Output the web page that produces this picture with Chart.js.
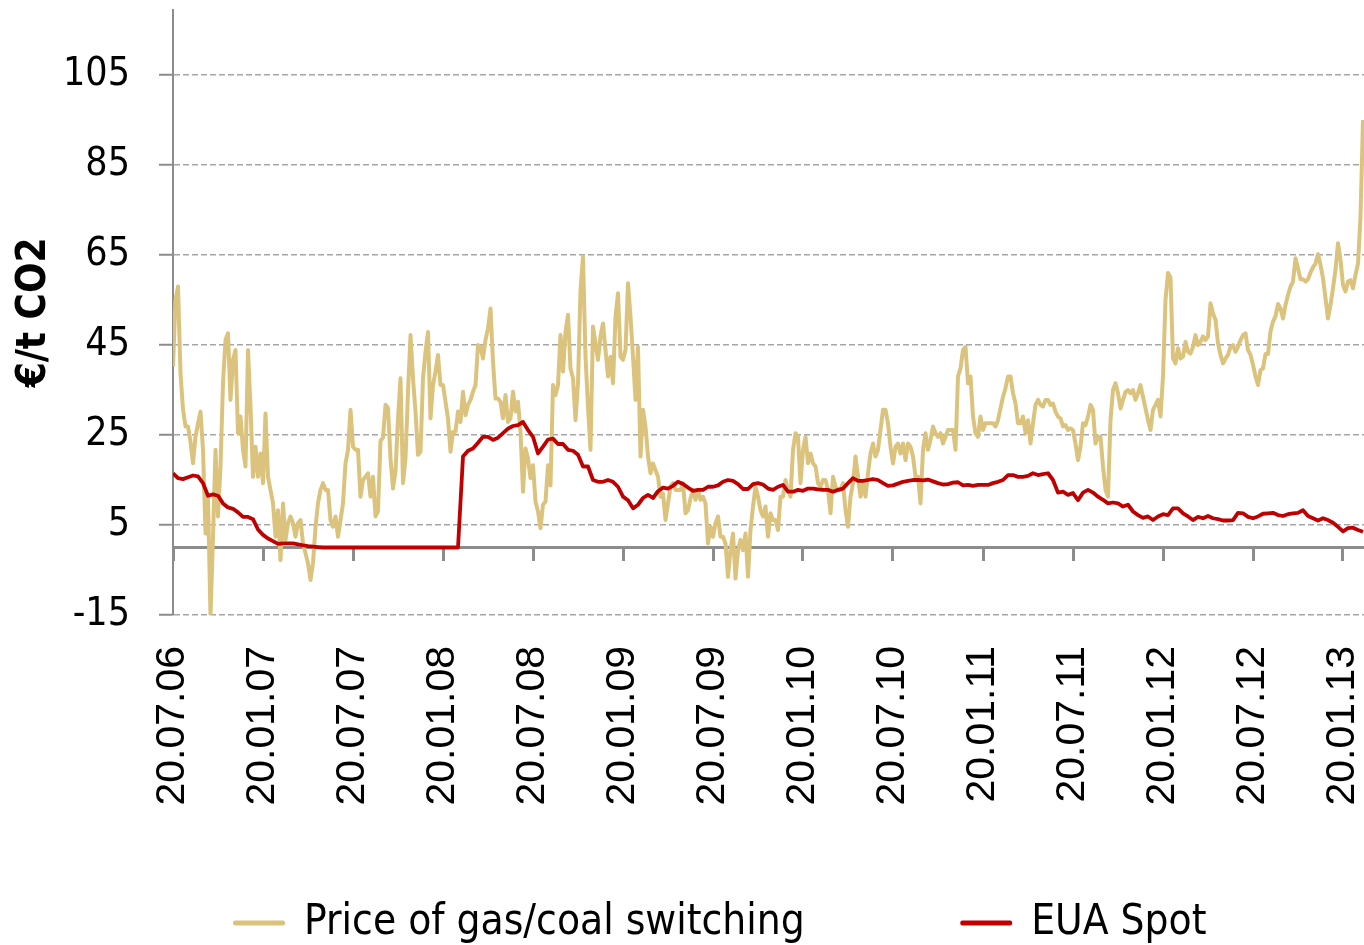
<!DOCTYPE html>
<html>
<head>
<meta charset="utf-8">
<script src="https://cdn.jsdelivr.net/npm/chart.js@4/dist/chart.umd.min.js"></script>
<style>
  html, body { margin: 0; padding: 0; background: #fff; }
  canvas { display: block; }
</style>
</head>
<body>
<canvas id="chart" width="1364" height="945"></canvas>
<script>
// x axis: months since 20.07.06, one label every 6 months
const tickLabels = ['20.07.06', '20.01.07', '20.07.07', '20.01.08', '20.07.08', '20.01.09', '20.07.09',
                    '20.01.10', '20.07.10', '20.01.11', '20.07.11', '20.01.12', '20.07.12', '20.01.13'];
const yTicks = [-15, 5, 25, 45, 65, 85, 105];

// sampling step of each series, in months
const gasStep = 1 / 6;
const euaStep = 1 / 3;

// Price of gas/coal switching, EUR/t CO2
const gasSwitch = [
  40.2, 55.0, 58.0, 38.7, 30.6, 26.9, 26.9, 23.5, 18.7, 24.6,
  27.6, 30.2, 21.7, 3.1, 11.1, -15.4, 2.4, 21.7, 6.9, 18.0,
  36.5, 46.1, 47.6, 32.8, 41.7, 43.9, 25.4, 29.1, 21.7, 18.0,
  43.9, 31.3, 15.7, 22.4, 15.7, 20.9, 14.3, 29.8, 15.7, 12.8,
  9.8, 2.4, 8.3, -2.8, 9.8, 1.7, 5.4, 6.9, 5.4, 2.4,
  5.4, 6.1, 0.9, -1.3, -3.5, -7.2, -3.5, 4.6, 9.8, 12.8,
  14.3, 12.8, 12.8, 6.1, 4.6, 6.9, 2.4, 6.1, 9.8, 18.7,
  21.7, 30.6, 22.4, 21.7, 21.7, 11.3, 15.0, 15.7, 16.5, 11.3,
  15.7, 6.9, 8.1, 23.7, 24.4, 31.7, 31.0, 19.8, 13.1, 16.9,
  28.7, 37.6, 14.3, 19.8, 34.6, 47.2, 37.6, 30.2, 20.6, 21.3,
  37.6, 43.5, 47.9, 28.7, 36.1, 39.1, 42.8, 36.1, 36.1, 32.4,
  28.7, 21.3, 25.7, 25.7, 30.2, 27.9, 34.6, 29.4, 31.7, 32.8,
  34.6, 36.1, 45.0, 44.6, 42.0, 46.1, 48.7, 53.1, 41.3, 33.1,
  33.1, 32.4, 28.7, 33.9, 27.9, 28.7, 34.6, 30.2, 32.4, 25.7,
  12.4, 22.0, 19.8, 15.4, 18.3, 10.2, 8.0, 4.3, 9.5, 10.2,
  18.3, 13.8, 36.1, 33.9, 36.1, 47.2, 39.1, 47.9, 51.7, 39.8,
  37.6, 28.3, 36.5, 57.2, 64.6, 42.4, 31.3, 21.7, 49.1, 45.4,
  41.7, 46.9, 49.8, 43.9, 38.0, 42.4, 36.5, 51.3, 56.5, 42.4,
  41.7, 43.9, 58.7, 51.3, 42.4, 32.8, 44.6, 20.2, 30.6, 26.9,
  20.2, 16.5, 18.7, 17.2, 15.7, 11.3, 12.0, 6.1, 9.8, 13.5,
  14.3, 12.8, 12.8, 12.8, 14.3, 7.6, 8.3, 10.9, 12.8, 10.6,
  12.8, 10.6, 11.3, 9.8, 0.9, 4.6, 2.4, 5.4, 6.9, 2.4,
  2.4, 0.9, -6.5, -0.6, 3.1, -6.9, -0.6, 1.7, -0.6, 3.1,
  -6.5, 3.9, 9.1, 13.5, 11.3, 8.3, 6.9, 9.1, 2.4, 7.6,
  6.1, 6.1, 3.9, 11.3, 11.3, 15.0, 12.8, 11.3, 21.7, 25.4,
  24.6, 14.3, 21.7, 24.6, 18.7, 20.9, 18.7, 18.0, 14.3, 13.5,
  15.0, 15.0, 12.8, 7.6, 15.7, 13.5, 12.8, 12.8, 14.3, 8.3,
  4.6, 11.3, 14.3, 20.2, 15.7, 11.3, 14.3, 11.3, 16.5, 20.9,
  23.1, 20.2, 21.7, 26.1, 30.6, 30.6, 27.6, 22.4, 18.7, 22.4,
  23.1, 20.9, 23.1, 19.4, 23.1, 22.4, 20.2, 15.7, 15.7, 9.8,
  21.7, 25.4, 21.7, 23.9, 26.9, 25.4, 24.6, 25.4, 23.1, 24.6,
  26.1, 26.1, 26.1, 21.7, 38.0, 39.8, 43.9, 44.6, 36.5, 38.0,
  29.1, 25.4, 24.6, 29.1, 26.1, 27.6, 27.6, 27.6, 27.6, 26.9,
  28.3, 30.9, 33.5, 35.4, 38.0, 38.0, 34.3, 32.0, 27.6, 27.6,
  29.1, 25.4, 28.3, 23.1, 27.6, 31.7, 32.8, 31.7, 31.3, 32.8,
  32.8, 31.7, 32.0, 30.2, 29.1, 28.7, 26.9, 27.2, 26.1, 26.5,
  26.1, 23.1, 19.4, 22.4, 27.6, 27.2, 29.1, 31.7, 30.6, 23.1,
  24.6, 24.6, 18.0, 12.8, 11.3, 28.3, 35.0, 36.5, 34.3, 30.9,
  32.8, 34.6, 35.0, 34.3, 35.0, 32.8, 34.3, 36.1, 33.5, 30.9,
  28.3, 26.1, 30.6, 31.7, 32.8, 29.1, 38.0, 55.0, 61.0, 60.0,
  42.0, 40.9, 44.3, 42.0, 42.4, 45.7, 43.5, 43.1, 44.6, 47.2,
  45.0, 45.7, 46.9, 46.1, 46.9, 54.3, 52.0, 50.6, 45.4, 42.8,
  40.9, 42.0, 42.8, 44.6, 45.0, 43.5, 44.6, 46.1, 47.2, 47.6,
  43.9, 42.8, 40.6, 38.0, 36.1, 39.4, 39.8, 43.0, 43.0, 48.0,
  50.2, 51.4, 54.1, 53.1, 50.9, 53.9, 56.1, 58.0, 59.1, 64.3,
  62.0, 59.6, 59.6, 59.1, 59.6, 61.1, 62.3, 63.1, 65.2, 62.8,
  59.8, 55.4, 50.9, 53.9, 57.6, 61.7, 67.6, 63.9, 58.3, 56.9,
  59.1, 59.4, 57.6, 60.6, 63.1, 73.5, 95.0
];

// EUA Spot, EUR/t CO2
const euaSpot = [
  16.5, 15.4, 15.2, 15.6, 16.0, 15.8, 14.3, 11.5, 11.8, 11.5,
  9.8, 8.9, 8.6, 7.8, 6.8, 6.8, 6.3, 4.0, 2.8, 2.0,
  1.4, 0.8, 0.9, 0.9, 0.9, 0.7, 0.5, 0.3, 0.2, 0.1,
  0, 0, 0, 0, 0, 0, 0, 0, 0, 0,
  0, 0, 0, 0, 0, 0, 0, 0, 0, 0,
  0, 0, 0, 0, 0, 0, 0, 0, 20.2, 21.5,
  22.0, 23.3, 24.6, 24.6, 23.9, 24.4, 25.4, 26.4, 27.0, 27.2,
  27.9, 26.1, 24.6, 20.9, 22.4, 24.0, 24.2, 23.0, 23.0, 21.7,
  21.5, 20.6, 18.0, 18.0, 15.0, 14.6, 14.6, 15.0, 14.6, 13.5,
  11.3, 10.5, 8.7, 9.5, 11.0, 11.7, 11.0, 12.5, 13.3, 13.1,
  13.7, 14.6, 14.1, 13.3, 12.6, 12.8, 12.8, 13.5, 13.5, 13.8,
  14.6, 15.0, 14.8, 14.1, 13.0, 13.0, 14.1, 14.3, 14.0, 13.1,
  12.8, 13.5, 13.9, 12.4, 12.4, 12.8, 12.6, 13.1, 13.1, 12.9,
  12.8, 12.8, 12.4, 12.8, 13.1, 14.3, 15.4, 14.8, 14.8, 15.0,
  15.2, 15.0, 14.3, 13.7, 13.8, 14.2, 14.6, 14.8, 15.0, 15.0,
  14.9, 15.1, 14.7, 14.3, 14.0, 14.1, 14.4, 14.5, 13.8, 13.9,
  13.7, 13.9, 13.9, 13.9, 14.3, 14.6, 15.0, 16.1, 16.1, 15.7,
  15.7, 15.9, 16.5, 16.1, 16.3, 16.5, 15.0, 12.2, 12.4, 11.7,
  12.1, 10.5, 12.2, 12.8, 12.2, 11.3, 10.6, 9.8, 10.0, 9.8,
  9.1, 9.5, 8.0, 7.2, 6.6, 6.9, 6.1, 6.9, 7.4, 7.2,
  8.7, 8.7, 7.6, 6.9, 6.1, 6.8, 6.5, 7.0, 6.5, 6.3,
  6.0, 6.0, 6.1, 7.7, 7.6, 6.8, 6.5, 6.9, 7.5, 7.6,
  7.7, 7.2, 7.0, 7.4, 7.6, 7.7, 8.3, 7.0, 6.5, 6.0,
  6.5, 6.1, 5.5, 4.6, 3.6, 4.3, 4.4, 3.9, 3.5
];

const textFont = "'DejaVu Sans Condensed', 'DejaVu Sans', sans-serif";
const legendFontSize = 42;
const legendPadding = 157.5;
const bottomPad = -9;
// chart area runs from y=9.75 to y=615; the rest of the bottom goes to x axis + legend
const xAxisHeight = 945 - bottomPad - 615 - (legendFontSize + legendPadding + 10);
const xMax = 79.4;

const gasPoints = gasSwitch.map((v, i) => ({ x: i * gasStep, y: v }));
const euaPoints = euaSpot.map((v, i) => ({ x: i * euaStep, y: v }));

const halfYearTicks = scale => {
  scale.ticks = tickLabels.map((t, i) => ({ value: i * 6 }));
};
const noSidePadding = scale => {
  scale.paddingLeft = 0;
  scale.paddingRight = 0;
  scale.paddingTop = 0;
  scale.paddingBottom = 0;
};

const ctx = document.getElementById('chart').getContext('2d');

new Chart(ctx, {
  type: 'line',
  data: {
    datasets: [{
      label: 'Price of gas/coal switching',
      data: gasPoints,
      borderColor: '#dcc37d',
      backgroundColor: '#dcc37d',
      borderWidth: 4,
      borderJoinStyle: 'round',
      pointRadius: 0,
      tension: 0,
      order: 1,
      xAxisID: 'x',
      yAxisID: 'y'
    }, {
      label: 'EUA Spot',
      data: euaPoints,
      borderColor: '#c00000',
      backgroundColor: '#c00000',
      borderWidth: 3.8,
      borderJoinStyle: 'round',
      pointRadius: 0,
      tension: 0,
      order: 0,
      xAxisID: 'x',
      yAxisID: 'y'
    }]
  },
  options: {
    responsive: false,
    animation: false,
    devicePixelRatio: 1,
    layout: { padding: { top: 9.75, bottom: bottomPad, left: 0, right: 0 } },
    plugins: {
      tooltip: { enabled: false },
      legend: {
        position: 'bottom',
        align: 'end',
        labels: {
          boxWidth: 48,
          boxHeight: 1,
          padding: legendPadding,
          color: '#000',
          font: { family: textFont, size: legendFontSize },
          sort: (a, b) => a.datasetIndex - b.datasetIndex
        }
      }
    },
    scales: {
      x: {
        type: 'linear',
        position: 'bottom',
        min: 0,
        max: xMax,
        afterBuildTicks: halfYearTicks,
        afterFit: s => { noSidePadding(s); s.height = xAxisHeight; },
        ticks: { display: false },
        grid: { display: false, drawTicks: false },
        border: { display: false }
      },
      // axis line at zero, carries the tick marks and the date labels
      x0: {
        type: 'linear',
        axis: 'x',
        position: { y: 0 },
        min: 0,
        max: xMax,
        afterBuildTicks: halfYearTicks,
        afterFit: noSidePadding,
        ticks: {
          autoSkip: false,
          maxRotation: 90,
          minRotation: 90,
          padding: 86.5,
          color: '#000',
          font: { family: "'Liberation Sans', Arial, sans-serif", size: 41 },
          callback: (v, i) => tickLabels[i]
        },
        grid: { drawOnChartArea: false, drawTicks: true, tickLength: 12, tickColor: '#8c8c8c', tickWidth: 3 },
        border: { display: true, color: '#8c8c8c', width: 3 }
      },
      y: {
        type: 'linear',
        min: -15,
        max: 119.5,
        afterBuildTicks: s => { s.ticks = yTicks.map(v => ({ value: v })); },
        afterFit: s => { noSidePadding(s); s.width = 173; },
        ticks: { color: '#000', padding: 29, font: { family: textFont, size: 39 } },
        grid: { color: '#a6a6a6', lineWidth: 1.5, drawTicks: true, tickLength: 14, tickColor: '#8c8c8c', tickWidth: 2 },
        border: { display: true, color: '#8c8c8c', width: 2, dash: [6, 3] },
        title: {
          display: true,
          text: '€/t CO2',
          color: '#000',
          font: { family: textFont, size: 40, weight: 'bold' },
          padding: { top: 11, bottom: 0 }
        }
      }
    }
  }
});
</script>
</body>
</html>
